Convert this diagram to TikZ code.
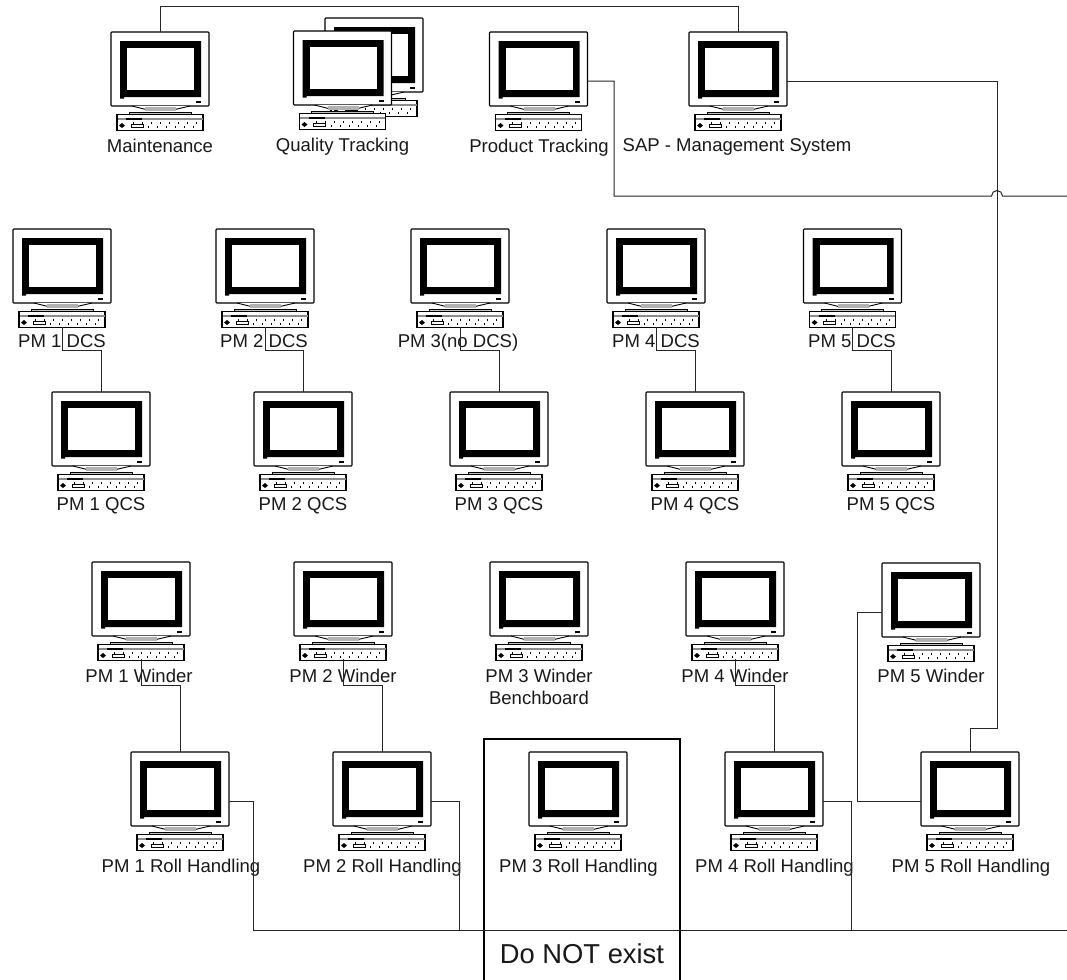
\documentclass[tikz,border=0pt]{standalone}
\usepackage{fontspec}
\setmainfont{Liberation Sans}
\usetikzlibrary{calc}
\tikzset{
  monitor/.style={draw=black,fill=white,line width=0.8pt,rectangle,inner sep=0pt,outer sep=0pt,minimum width=73.5pt,minimum height=55.5pt,rounded corners=0.6pt},
  kbd/.style={draw=black,fill=white,line width=0.8pt,rectangle,inner sep=0pt,outer sep=0pt,minimum width=64.5pt,minimum height=11.5pt},
  caption/.style={anchor=base,inner sep=0pt,text=black!90,font=\fontsize{13.9}{16.5}\selectfont},
  bigcaption/.style={anchor=base,inner sep=0pt,text=black!90,font=\fontsize{20.5}{24}\selectfont},
  wire/.style={draw=black!85,line width=0.75pt,line join=miter},
}
% name, centre x, top y
\newcommand{\computer}[3]{%
  \begin{scope}[shift={(#2,#3)}]
    \node[monitor] (#1) at (0,37) {};
    \fill[black] (-40,9) rectangle (41,65) (-40,64) rectangle (-36,66.5);
    \fill[white] (-33,15.5) rectangle (34,58);
    \fill[black] (36,69) rectangle (41,71);
    \draw[fill=white,line width=0.7pt] (-28,74) -- (-14,77.5) -- (15,77.5) -- (30,74);
    \fill[black!30] (-15,75) rectangle (16,79);
    \draw[fill=black!25,line width=0.7pt] (-31,83) -- (-31,80) -- (31,80) -- (31,83);
    \node[kbd] (#1-kb) at (0,90.5) {};
    \fill[black!45] (-42.5,85.5) rectangle (42.5,87.5);
    \fill[black] (-34,85.5) rectangle (-18,88);
    \fill[black] (-38,91) -- (-35,93.5) -- (-38,96) -- (-41,93.5) -- cycle;
    \draw[line width=0.6pt] (-29,92.5) rectangle (-17,95);
    \foreach \i in {-27,-18,-9,...,38} \fill[black] (\i,89.5) rectangle ++(1.3,2);
    \foreach \i in {-12,-3,...,38} \fill[black] (\i,93.5) rectangle ++(1.3,2);
    \coordinate (#1-r) at (49,49);
    \coordinate (#1-l) at (-49,49);
  \end{scope}%
}
\begin{document}
\begin{tikzpicture}[x=0.75pt,y=-0.75pt]
\useasboundingbox (0,0) rectangle (1067,979);
\fill[white] (0,0) rectangle (1067,979);
% top row
\computer{maint}{160}{32}
\computer{qualb}{374}{18}
\computer{qualf}{342.5}{31}
\computer{prod}{538.5}{32}
\computer{sap}{738}{32}
% DCS
\computer{dcsa}{62}{229}
\computer{dcsb}{265}{229}
\computer{dcsc}{460}{229}
\computer{dcsd}{656}{229}
\computer{dcse}{852.5}{229}
% QCS
\computer{qcsa}{101}{392}
\computer{qcsb}{303}{392}
\computer{qcsc}{499}{392}
\computer{qcsd}{695}{392}
\computer{qcse}{891}{392}
% winders
\computer{wina}{141}{562}
\computer{winb}{343}{562}
\computer{winc}{539}{562}
\computer{wind}{735}{562}
\computer{wine}{931}{563}
% roll handling
\computer{rola}{180}{752}
\computer{rolb}{382}{752}
\computer{rolc}{578}{752}
\computer{rold}{774}{752}
\computer{role}{970}{752}
% captions
\node[caption] (t1) at (160,152) {Maintenance};
\node[caption] (t2) at (342.5,151) {Quality Tracking};
\node[caption] (t3) at (539,152) {Product Tracking};
\node[caption] (t4) at (737,151) {SAP - Management System};
\node[caption] (d1) at (62,347) {PM 1 DCS};
\node[caption] (d2) at (264,347) {PM 2 DCS};
\node[caption] (d3) at (458,347) {PM 3(no DCS)};
\node[caption] (d4) at (656,347) {PM 4 DCS};
\node[caption] (d5) at (852,347) {PM 5 DCS};
\node[caption] (q1) at (101,510) {PM 1 QCS};
\node[caption] (q2) at (303,510) {PM 2 QCS};
\node[caption] (q3) at (499,510) {PM 3 QCS};
\node[caption] (q4) at (695,510) {PM 4 QCS};
\node[caption] (q5) at (891,510) {PM 5 QCS};
\node[caption] (w1) at (139,682) {PM 1 Winder};
\node[caption] (w2) at (343,682) {PM 2 Winder};
\node[caption] (w3) at (539,682) {PM 3 Winder};
\node[caption] (w3b) at (539,704) {Benchboard};
\node[caption] (w4) at (735,682) {PM 4 Winder};
\node[caption] (w5) at (931,682) {PM 5 Winder};
\node[caption] (r1) at (181,872) {PM 1 Roll Handling};
\node[caption] (r2) at (382.5,872) {PM 2 Roll Handling};
\node[caption] (r3) at (578.5,872) {PM 3 Roll Handling};
\node[caption] (r4) at (774.5,872) {PM 4 Roll Handling};
\node[caption] (r5) at (971,872) {PM 5 Roll Handling};
\node[bigcaption] (dne) at (582,963) {Do NOT exist};
% boundary of the non-existent group
\coordinate (bl) at (484,985);
\coordinate (tl) at (484,739);
\coordinate (tr) at (680,739);
\coordinate (br) at (680,985);
\draw[black,line width=0.85pt] (bl) -- (tl) -- (tr) -- (br);
% connectors
\draw[wire] (maint.north) -- ++(0,-26) -| (sap.north);
\coordinate (busa) at (1070,196);
\coordinate (busb) at (1070,930);
\coordinate (hopa) at (991.5,196);
\coordinate (hopb) at (1002.5,196);
\draw[wire] (prod-r) -| (614,196) -- (hopa) arc[start angle=180,end angle=360,radius=5.5] -- (busa);
\draw[wire] (sap-r) -| (997,728) -| (role.north);
\foreach \u/\v in {dcsa/qcsa,dcsb/qcsb,dcsc/qcsc,dcsd/qcsd,dcse/qcse}
  \draw[wire] (\u-kb.south) -- ++(0,23) -| (\v.north);
\foreach \u/\v in {wina/rola,winb/rolb,wind/rold}
  \draw[wire] ($(\u-kb.south)+(0,-1)$) -- ++(0,26) -| (\v.north);
\draw[wire] (wine-l) -| (857,801) -- (role-l);
\draw[wire] (rola-r) -| (253,930) -- (busb);
\draw[wire] (rolb-r) -| (459,930);
\draw[wire] (rold-r) -| (851,930);
\end{tikzpicture}
\end{document}
